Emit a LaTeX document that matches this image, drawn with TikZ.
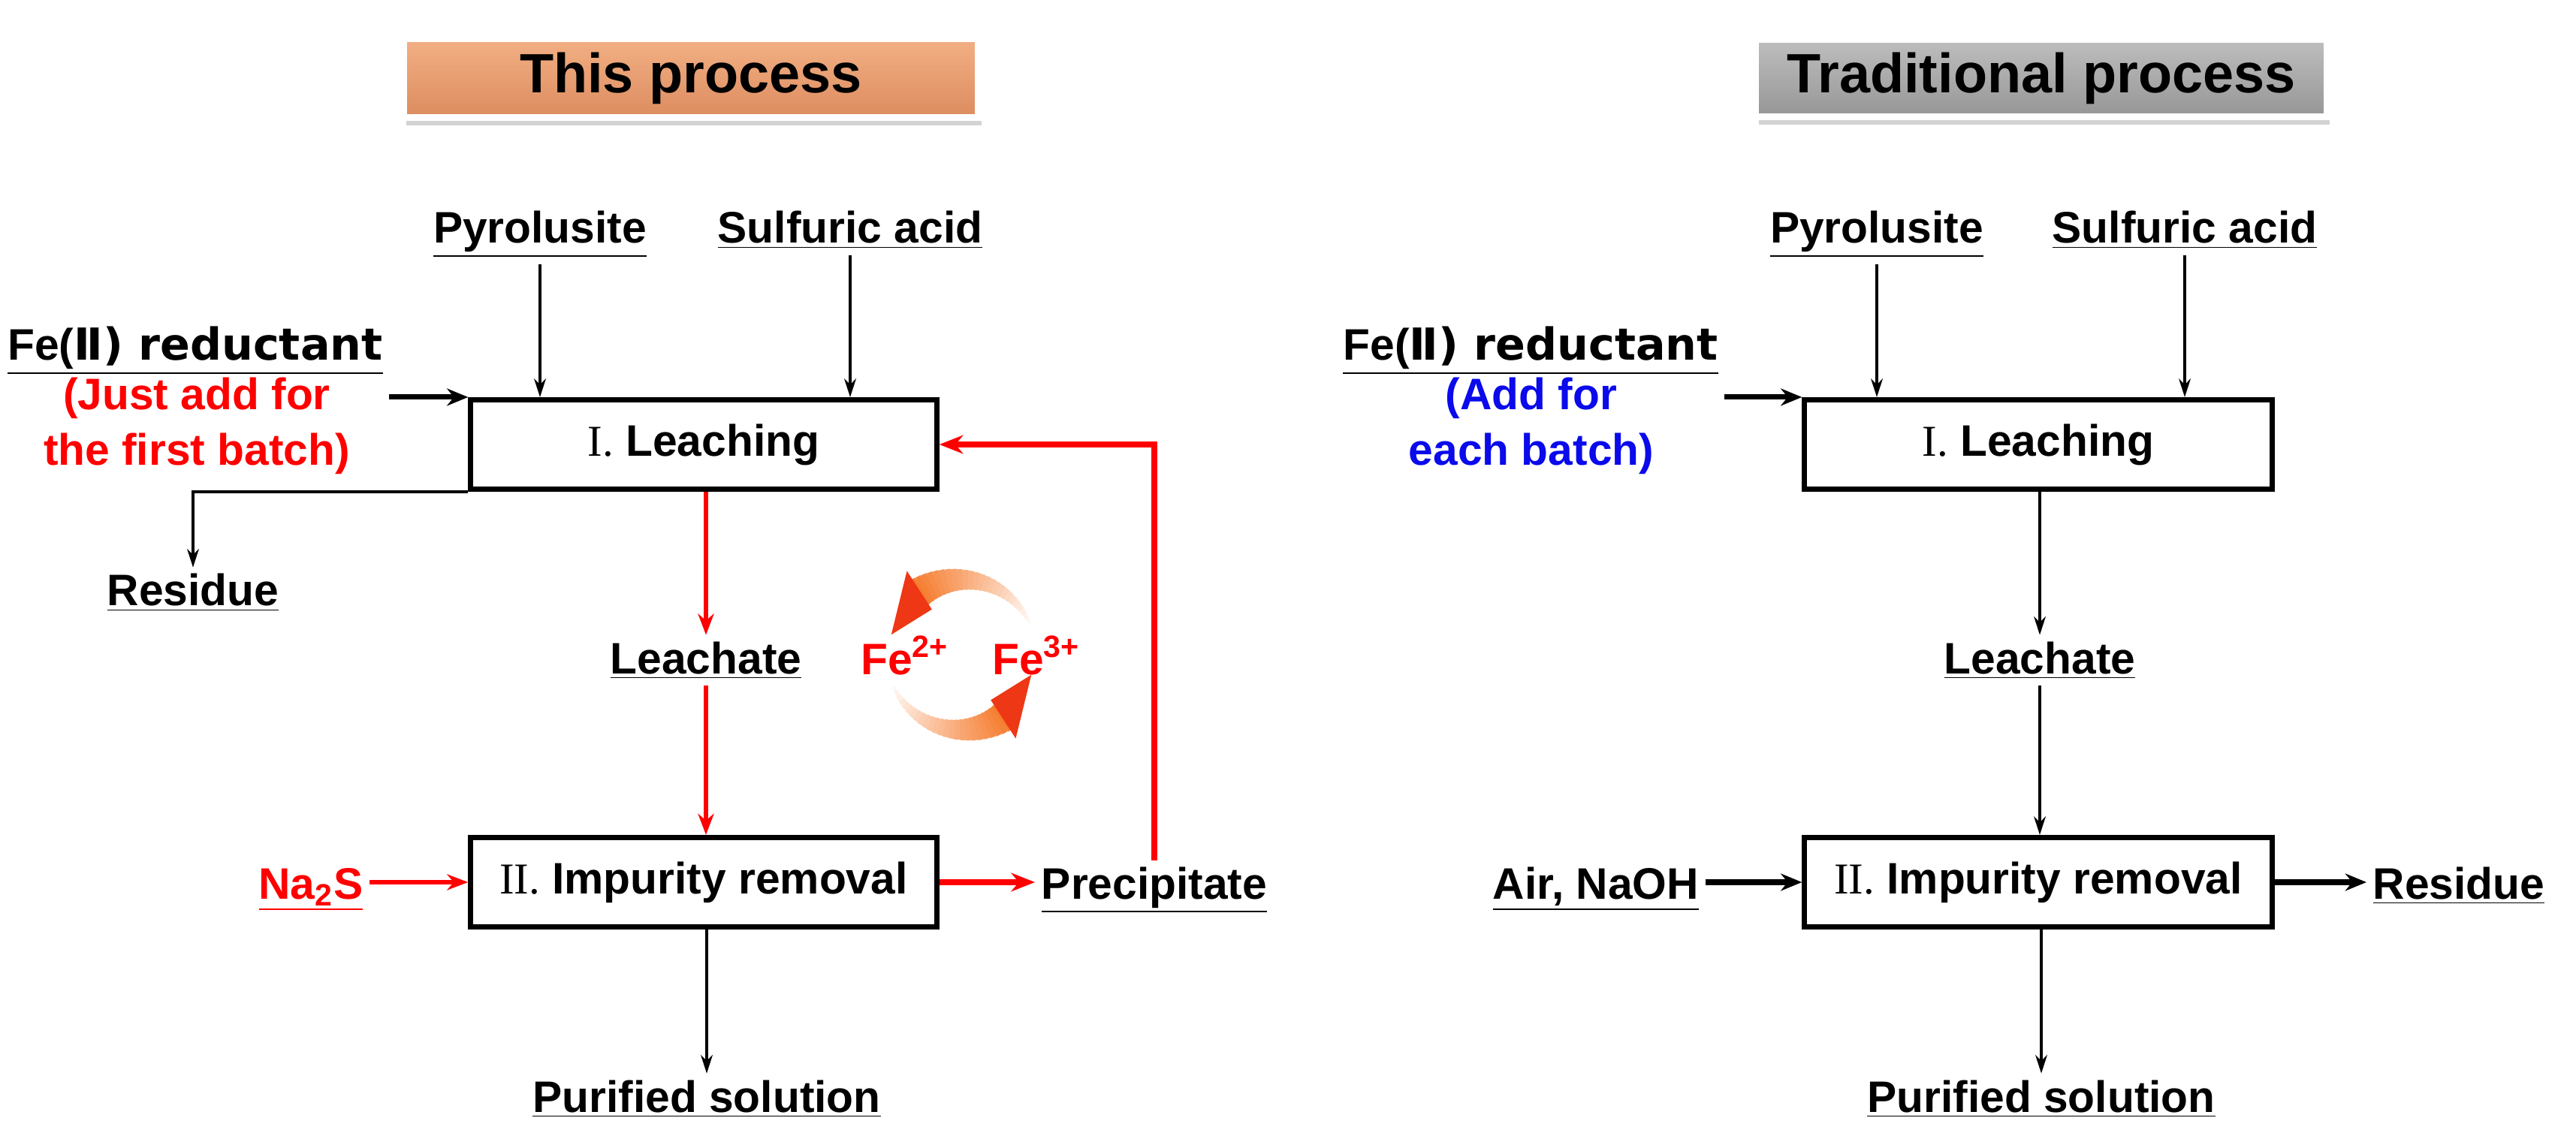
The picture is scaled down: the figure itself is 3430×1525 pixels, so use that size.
\documentclass[tikz,border=0pt]{standalone}
\usepackage{fontspec}
\setmainfont{Liberation Sans}
\newfontfamily\romf{Liberation Serif}
\newfontfamily\djf{DejaVu Sans}
\usetikzlibrary{arrows.meta,shadows}
\definecolor{cycA}{RGB}{245,120,40}
\definecolor{cycB}{RGB}{238,55,20}
\definecolor{orT}{RGB}{242,176,132}
\definecolor{orB}{RGB}{220,140,95}
\definecolor{grT}{RGB}{190,190,190}
\definecolor{grB}{RGB}{150,150,150}
\definecolor{myred}{RGB}{255,0,0}
\definecolor{myblue}{RGB}{10,10,235}
\newcommand{\rn}[1]{{\romf\mdseries #1}}
\newcommand{\fetwo}{Fe(\djf\bfseries Ⅱ)}
\begin{document}
\begin{tikzpicture}[x=0.01cm,y=-0.01cm,
  lab/.style={font=\bfseries\fontsize{16.7}{20}\selectfont, inner sep=0pt, outer sep=2.5pt, anchor=base},
  ttl/.style={font=\bfseries\fontsize{21}{24}\selectfont, draw=white, line width=2.5pt, drop shadow={opacity=0.35,shadow xshift=0.04cm,shadow yshift=-0.1cm}},
  box/.style={draw, line width=2pt, font=\bfseries\fontsize{16.7}{20}\selectfont, minimum width=6.2cm, minimum height=1.19cm, inner sep=0pt},
  thin/.style={line width=0.9pt, -{Stealth[length=7pt,width=4.5pt]}},
  thick/.style={line width=2pt, -{Stealth[length=8pt,width=6.5pt]}},
  rthin/.style={myred, line width=1.6pt, -{Stealth[length=8pt,width=6pt]}},
  rthick/.style={myred, line width=2.4pt, -{Stealth[length=9pt,width=7pt]}}]
\useasboundingbox (0,0) rectangle (3430,1525);

% titles
\node[ttl, top color=orT, bottom color=orB, minimum width=7.65cm, minimum height=1.05cm] (t1) at (920,104) {This process};
\node[ttl, top color=grT, bottom color=grB, minimum width=7.6cm, minimum height=1.03cm] (t2) at (2718,104) {Traditional process};

% Fe cycle
\foreach \i in {0,...,25}{
  \pgfmathsetmacro\aa{25+\i*4}
  \pgfmathsetmacro\ab{\aa+4.6}
  \pgfmathsetmacro\w{(4+\i*1.5)*0.2845}
  \pgfmathsetmacro\p{5+\i*3.8}
  \draw[line width=\w pt, cycA!\p!white] ({1280+100*cos(\aa)},{872-100*sin(\aa)}) -- ({1280+100*cos(\ab)},{872-100*sin(\ab)});
  \pgfmathsetmacro\ba{205+\i*4}
  \pgfmathsetmacro\bb{\ba+4.6}
  \draw[line width=\w pt, cycA!\p!white] ({1280+100*cos(\ba)},{872-100*sin(\ba)}) -- ({1280+100*cos(\bb)},{872-100*sin(\bb)});
}
\fill[cycB] ({1280+72*cos(123)},{872-72*sin(123)}) -- ({1280+133*cos(123)},{872-133*sin(123)}) -- ({1280+97*cos(164)},{872-97*sin(164)}) -- cycle;
\fill[cycB] ({1280+72*cos(303)},{872-72*sin(303)}) -- ({1280+133*cos(303)},{872-133*sin(303)}) -- ({1280+97*cos(344)},{872-97*sin(344)}) -- cycle;
\node[lab, myred] (fe2) at (1205,898) {Fe\textsuperscript{2+}};
\node[lab, myred] (fe3) at (1380,898) {Fe\textsuperscript{3+}};

% ---------- left ----------
\node[box] (L1) at (937,592) {\rn{I.} Leaching};
\node[box] (L2) at (937,1175) {\rn{II.} Impurity removal};
\node[lab] (pyL) at (719,324) {\underline{Pyrolusite}};
\node[lab] (saL) at (1132,324) {\underline{Sulfuric acid}};
\node[lab] (feL) at (260,480) {\underline{\fetwo\ reductant}};
\node[lab, myred] (feL2) at (262,546) {(Just add for};
\node[lab, myred] (feL3) at (262,620) {the first batch)};
\node[lab] (resL) at (257,807) {\underline{Residue}};
\node[lab] (leL) at (940,897) {\underline{Leachate}};
\node[lab, myred] (na) at (414,1197) {\underline{Na\textsubscript{2}S}};
\node[lab] (pr) at (1537,1197) {\underline{Precipitate}};
\node[lab] (puL) at (941,1481) {\underline{Purified solution}};

\draw[thin] (pyL.south) -- (pyL.south |- L1.north);
\draw[thin] (saL.south) -- (saL.south |- L1.north);
\draw[thick] (feL.east |- L1.north west) -- (L1.north west);
\draw[thin] (L1.south west) -| (resL.north);
\draw[rthin] (L1.south -| leL) -- (leL.north);
\draw[rthin] (leL.south) -- (L2.north -| leL);
\draw[rthin] (na.east |- L2.west) -- (L2.west);
\draw[rthick] (L2.east) -- (pr.west |- L2.east);
\draw[rthick] (pr.north) |- (L1.east);
\draw[thin] (L2.south -| puL) -- (puL.north);

% ---------- right ----------
\node[box, minimum width=6.22cm] (R1) at (2714,592) {\rn{I.} Leaching};
\node[box, minimum width=6.22cm] (R2) at (2714,1175) {\rn{II.} Impurity removal};
\node[lab] (pyR) at (2499,324) {\underline{Pyrolusite}};
\node[lab] (saR) at (2909,324) {\underline{Sulfuric acid}};
\node[lab] (feR) at (2038,480) {\underline{\fetwo\ reductant}};
\node[lab, myblue] (feR2) at (2039,546) {(Add for};
\node[lab, myblue] (feR3) at (2039,620) {each batch)};
\node[lab] (leR) at (2716,897) {\underline{Leachate}};
\node[lab] (air) at (2125,1197) {\underline{Air, NaOH}};
\node[lab] (resR) at (3274,1197) {\underline{Residue}};
\node[lab] (puR) at (2718,1481) {\underline{Purified solution}};

\draw[thin] (pyR.south) -- (pyR.south |- R1.north);
\draw[thin] (saR.south) -- (saR.south |- R1.north);
\draw[thick] (feR.east |- R1.north west) -- (R1.north west);
\draw[thin] (R1.south -| leR) -- (leR.north);
\draw[thin] (leR.south) -- (R2.north -| leR);
\draw[thick] (air.east |- R2.west) -- (R2.west);
\draw[thick] (R2.east) -- (resR.west |- R2.east);
\draw[thin] (R2.south -| puR) -- (puR.north);
\end{tikzpicture}
\end{document}
